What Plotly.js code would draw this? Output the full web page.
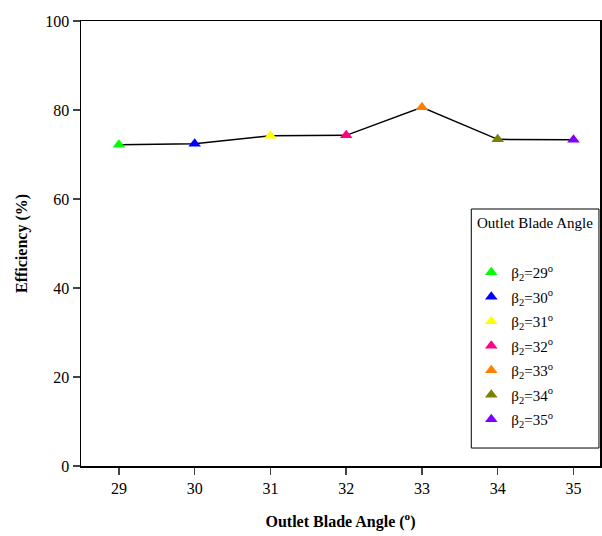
<!DOCTYPE html>
<html>
<head>
<script src="https://cdn.plot.ly/plotly-3.0.1.min.js"></script>
<style>html,body{margin:0;padding:0;background:#fff;}#chart{width:602px;height:536px;}</style>
</head>
<body>
<div id="chart"></div>
<script>
const angles = [29, 30, 31, 32, 33, 34, 35];
const efficiency = [72.2, 72.4, 74.2, 74.3, 80.6, 73.4, 73.3];
const seriesNames = ["β<sub>2</sub>=29<sup>o</sup>", "β<sub>2</sub>=30<sup>o</sup>", "β<sub>2</sub>=31<sup>o</sup>", "β<sub>2</sub>=32<sup>o</sup>", "β<sub>2</sub>=33<sup>o</sup>", "β<sub>2</sub>=34<sup>o</sup>", "β<sub>2</sub>=35<sup>o</sup>"];
const colors = ["#00ff00", "#0000ff", "#ffff00", "#ff0080", "#ff8000", "#808000", "#8000ff"];
const yTicks = [0, 20, 40, 60, 80, 100];
const legendTitle = "Outlet Blade Angle";

const font = {family: "Liberation Serif", color: "#000"};

const traces = [{
  x: angles, y: efficiency, mode: "lines", type: "scatter",
  line: {color: "#000", width: 1.5}, showlegend: false, hoverinfo: "skip"
}];
angles.forEach((a, i) => {
  traces.push({
    x: [a], y: [efficiency[i]], mode: "markers", type: "scatter",
    name: seriesNames[i], legendgroup: "g" + i,
    marker: {symbol: "triangle-up", size: 11, color: colors[i]}
  });
});

const layout = {
  width: 602, height: 536,
  margin: {l: 81, r: 2, t: 21, b: 70},
  paper_bgcolor: "#fff", plot_bgcolor: "#fff",
  font: Object.assign({size: 15}, font),
  xaxis: {
    range: [28.5, 35.35], tickvals: angles, ticks: "outside", ticklen: 7, tickwidth: 1.5,
    showline: true, linewidth: 1.5, linecolor: "#000", mirror: true, showgrid: false, zeroline: false,
    tickfont: Object.assign({size: 16}, font),
    title: {text: "<b>Outlet Blade Angle (<sup>o</sup>)</b>", font: Object.assign({size: 16}, font), standoff: 20}
  },
  yaxis: {
    range: [0, 100], tickvals: yTicks, ticks: "outside", ticklen: 7, tickwidth: 1.5,
    showline: true, linewidth: 1.5, linecolor: "#000", mirror: true, showgrid: false, zeroline: false,
    tickfont: Object.assign({size: 16}, font),
    title: {text: "<b>Efficiency (%)</b>", font: Object.assign({size: 16}, font), standoff: 13}
  },
  shapes: [{
    type: "rect", xref: "paper", yref: "paper", layer: "above",
    x0: 0.752, x1: 0.998, y0: 0.0404, y1: 0.5775,
    line: {color: "#000", width: 1}, fillcolor: "rgba(255,255,255,0)"
  }],
  annotations: [{
    text: legendTitle, xref: "paper", yref: "paper", x: 0.875, y: (466 - 223) / 445,
    xanchor: "center", yanchor: "middle", showarrow: false, font: Object.assign({size: 15}, font)
  }],
  legend: {
    x: 0.752, y: (466 - 256) / 445, xanchor: "left", yanchor: "top",
    borderwidth: 0, bgcolor: "rgba(255,255,255,0)",
    font: Object.assign({size: 15}, font),
    tracegroupgap: 2
  }
};

Plotly.newPlot("chart", traces, layout, {displayModeBar: false, staticPlot: true});
</script>
</body>
</html>
